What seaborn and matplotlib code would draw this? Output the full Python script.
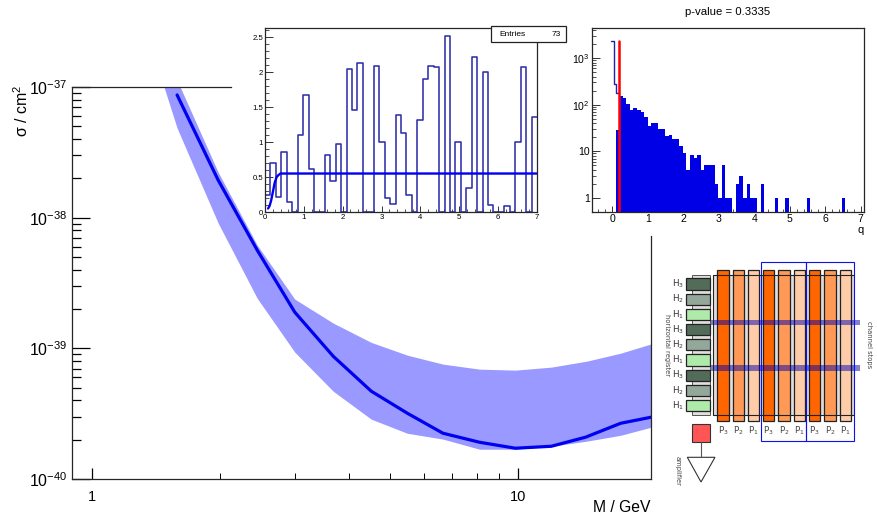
import numpy as np
import matplotlib
matplotlib.use("Agg")
import matplotlib.pyplot as plt
from matplotlib.patches import Rectangle, Polygon
from matplotlib.ticker import NullFormatter
import seaborn as sns

W, H = 878, 516

# ---- main limit plot ----
mass = [1.583, 1.976, 2.44, 2.99, 3.68, 4.52, 5.49, 6.66, 8.12, 9.85, 11.96, 14.4, 17.4, 20.5]
limit = [8.69e-38, 1.94e-38, 5.65e-39, 1.89e-39, 8.7e-40, 4.7e-40, 3.19e-40,
         2.24e-40, 1.91e-40, 1.72e-40, 1.78e-40, 2.09e-40, 2.67e-40, 2.97e-40]
band_mass = [1.444, 1.583, 1.976, 2.44, 2.99, 3.68, 4.52, 5.49, 6.66, 8.12, 9.85, 11.96, 14.5, 17.4, 20.5]
band_hi = [2.21e-37, 1.13e-37, 2.23e-38, 6.17e-39, 2.38e-39, 1.56e-39, 1.11e-39, 8.87e-40,
           7.57e-40, 6.93e-40, 6.81e-40, 7.18e-40, 7.98e-40, 9.18e-40, 1.08e-39]
band_lo = [1.24e-37, 4.85e-38, 9.1e-39, 2.42e-39, 9.35e-40, 4.7e-40, 2.87e-40, 2.24e-40,
           2.02e-40, 1.69e-40, 1.69e-40, 1.78e-40, 1.95e-40, 2.16e-40, 2.49e-40]

# ---- upper-middle histogram ----
entries_counts = [0.24, 0.70, 0.22, 0.86, 0.14, 0, 1.10, 1.67, 0.62, 0, 0, 0.81, 0.44, 0.97, 0,
                  2.05, 1.46, 2.13, 0, 0, 2.08, 1.0, 0.20, 0.12, 1.38, 1.13, 0.24, 0, 1.32, 1.90,
                  2.08, 2.07, 0, 2.51, 0, 1.0, 0, 0.35, 2.21, 0, 2.0, 0.10, 0, 0, 0.08, 0, 1.0,
                  2.07, 0, 1.36]
fit_x = [0.08, 0.12, 0.16, 0.20, 0.25, 0.30, 0.35, 0.40, 0.50, 7.0]
fit_y = [0.05, 0.09, 0.17, 0.28, 0.42, 0.50, 0.53, 0.55, 0.55, 0.55]

# ---- q distribution ----
q_hollow_edges = [-0.047, 0.056, 0.113, 0.2]
q_hollow = [2280, 277, 178]
q_first_edge = 0.113
q_first = 29
q_counts = [156, 139, 105, 78, 85, 78, 68, 54, 35, 40, 40, 30, 30, 21, 22, 18.5, 18.5, 13,
            9, 4, 8.2, 7.2, 8.2, 4, 5, 5, 5, 2, 1, 5, 1, 1, 0, 2, 3, 1, 2, 1, 1, 0, 2,
            0, 0, 0, 1, 0, 0, 1, 0, 0, 0, 0, 0, 1, 0, 0, 0, 0, 0, 0, 0, 0, 0, 1]
q_start, q_width = 0.2, 0.0995
q_obs = 0.19

# ---- detector schematic ----
phase_labels = ["P$_3$", "P$_2$", "P$_1$"] * 3
phase_colors = ["#ff6600", "#ff9955", "#ffccaa"] * 3
reg_labels = ["H$_3$", "H$_2$", "H$_1$"] * 3
reg_colors = ["#536c59", "#93a79b", "#aeeaaa"] * 3

sns.set_theme(style="ticks", font="Liberation Sans")
plt.rcParams.update({
    "mathtext.fontset": "custom", "mathtext.rm": "Liberation Sans",
    "mathtext.it": "Liberation Sans", "mathtext.bf": "Liberation Sans",
    "mathtext.default": "regular", "axes.linewidth": 0.9,
    "xtick.direction": "in", "ytick.direction": "in",
    "text.color": "black", "xtick.color": "black", "ytick.color": "black",
})

fig = plt.figure(figsize=(W / 100, H / 100), dpi=100, facecolor="white")


def ax_px(l, t, r, b, **kw):
    return fig.add_axes([l / W, 1 - b / H, (r - l) / W, (b - t) / H], **kw)


# ---------- main ----------
ax = ax_px(72, 87, 651, 479)
ax.set_xscale("log")
ax.set_yscale("log")
ax.fill_between(band_mass, band_lo, band_hi, color="#9999ff", lw=0)
sns.lineplot(x=mass, y=limit, color="#0000f0", lw=2.3, ax=ax, estimator=None, sort=False)
ax.set_xlim(0.897, 20.5)
ax.set_ylim(1e-40, 1e-37)
ax.set_xticks([1, 10], ["1", "10"])
ax.set_xticks([2, 3, 4, 5, 6, 7, 8, 9], minor=True)
ax.xaxis.set_minor_formatter(NullFormatter())
decades = [1e-40, 1e-39, 1e-38, 1e-37]
ax.set_yticks(decades, ["$10^{-40}$", "$10^{-39}$", "$10^{-38}$", "$10^{-37}$"])
ax.set_yticks([m * d for d in decades[:3] for m in range(2, 10)], minor=True)
ax.yaxis.set_minor_formatter(NullFormatter())
ax.tick_params(axis="y", which="major", length=13, width=0.9, labelsize=11.5, pad=3)
ax.tick_params(axis="y", which="minor", length=6.5, width=0.9)
ax.tick_params(axis="x", which="major", length=8, width=0.9, labelsize=10.5, pad=8)
ax.tick_params(axis="x", which="minor", length=4.3, width=0.7)
ax.spines["top"].set_bounds(0.897, 2.12)
ax.spines["right"].set_bounds(1e-40, 7.24e-39)
for s in ax.spines.values():
    s.set_visible(True)

# ---------- middle inset ----------
a1 = ax_px(265, 28, 537, 212)
edges1 = np.linspace(0, 7, len(entries_counts) + 1)
sns.histplot(x=(edges1[:-1] + edges1[1:]) / 2, weights=entries_counts, bins=list(edges1),
             element="step", fill=False, color="#3030aa", lw=1.15, ax=a1)
sns.lineplot(x=fit_x, y=fit_y, color="#0000f0", lw=1.7, ax=a1, estimator=None)
a1.set_xlim(0, 7)
a1.set_ylim(0, 2.63)
a1.set_xlabel("")
a1.set_ylabel("")
a1.set_xticks(range(8), [str(i) for i in range(8)])
a1.set_xticks(np.arange(0, 7.01, 0.2), minor=True)
a1.set_yticks([0, 0.5, 1, 1.5, 2, 2.5], ["0", "0.5", "1", "1.5", "2", "2.5"])
a1.set_yticks(np.arange(0, 2.61, 0.1), minor=True)
a1.xaxis.set_minor_formatter(NullFormatter())
a1.yaxis.set_minor_formatter(NullFormatter())
a1.tick_params(axis="both", which="major", labelsize=5.6, pad=1.5, width=0.7, color="#333333")
a1.tick_params(axis="x", which="major", length=4)
a1.tick_params(axis="y", which="major", length=6)
a1.tick_params(axis="x", which="minor", length=2, width=0.6, color="#333333")
a1.tick_params(axis="y", which="minor", length=3, width=0.6, color="#333333")

# ---------- right inset ----------
a2 = ax_px(592, 28, 864, 212)
a2.set_yscale("log")
q_edges = q_start + q_width * np.arange(len(q_counts) + 1)
fill_edges = np.r_[q_first_edge, q_edges]
fill_vals = [q_first] + q_counts
sns.histplot(x=(fill_edges[:-1] + fill_edges[1:]) / 2, weights=fill_vals, bins=list(fill_edges),
             element="step", fill=True, alpha=1, color="#0000e6", lw=0, ax=a2)
h_edges = np.array(q_hollow_edges)
sns.histplot(x=(h_edges[:-1] + h_edges[1:]) / 2, weights=q_hollow, bins=list(h_edges),
             element="step", fill=False, color="#2020b0", lw=1.0, ax=a2)
sns.lineplot(x=[q_obs, q_obs], y=[0.5, q_hollow[0]], color="#ff0000", lw=1.8, ax=a2, estimator=None)
a2.set_xlim(-0.57, 7.09)
a2.set_ylim(0.5, 4400)
a2.set_xlabel("")
a2.set_ylabel("")
a2.set_xticks(range(8), [str(i) for i in range(8)])
a2.set_xticks(np.arange(-0.4, 7.01, 0.2), minor=True)
a2.set_yticks([1, 10, 100, 1000], ["1", "10", "$10^{2}$", "$10^{3}$"])
a2.set_yticks([m * d for d in [1, 10, 100, 1000] for m in range(2, 10) if m * d < 4400], minor=True)
a2.xaxis.set_minor_formatter(NullFormatter())
a2.yaxis.set_minor_formatter(NullFormatter())
a2.tick_params(axis="both", which="major", labelsize=7.6, pad=1.5, width=0.7, color="#333333")
a2.tick_params(axis="x", which="major", length=4.3)
a2.tick_params(axis="y", which="major", length=6)
a2.tick_params(axis="x", which="minor", length=2, width=0.6, color="#333333")
a2.tick_params(axis="y", which="minor", length=3, width=0.6, color="#333333")

# ---------- overlay in pixel coordinates ----------
ov = fig.add_axes([0, 0, 1, 1], zorder=10)
ov.set_xlim(0, W)
ov.set_ylim(H, 0)
ov.axis("off")
ov.patch.set_alpha(0)

ov.text(22, 111, "σ / cm$^{2}$", rotation=90, ha="center", va="center", fontsize=11.5)
ov.text(651, 507.5, "M / GeV", ha="right", va="center", fontsize=11.3)
ov.text(728, 12, "p-value = 0.3335", ha="center", va="center", fontsize=8.2)
ov.text(861, 230, "q", ha="center", va="center", fontsize=8)

ov.add_patch(Rectangle((491, 26), 75, 16, fc="white", ec="#222222", lw=0.9))
ov.text(499, 34, "Entries", ha="left", va="center", fontsize=6)
ov.text(561, 34, "73", ha="right", va="center", fontsize=6)

# schematic
ov.add_patch(Rectangle((713.3, 275), 140.7, 140.3, fc="#e2dcdc", ec="none"))
ov.plot([854, 713.3, 713.3, 854], [275, 275, 415.3, 415.3], color="#222222", lw=0.8)
ov.add_patch(Rectangle((692.3, 275), 17.7, 140.3, fc="#e2dcdc", ec="#555555", lw=0.7))
for k, (lab, c) in enumerate(zip(phase_labels, phase_colors)):
    x0 = 717.3 + 15.3 * k
    ov.add_patch(Rectangle((x0, 270), 11.3, 151.3, fc=c, ec="#222222", lw=0.9))
    ov.text(x0 + 5.6, 431, lab, ha="center", va="center", fontsize=6.3,
            family="DejaVu Sans", color="#444444")
for k, (lab, c) in enumerate(zip(reg_labels, reg_colors)):
    y0 = 278.3 + 15.2 * k
    ov.add_patch(Rectangle((685.7, y0), 24.3, 11.3, fc=c, ec="#222222", lw=0.9))
    ov.text(678, y0 + 5.6, lab, ha="center", va="center", fontsize=6.3,
            family="DejaVu Sans", color="#333333")
for y0, h in [(320, 5.3), (365.3, 5.7)]:
    ov.add_patch(Rectangle((710.7, y0), 149.3, h, fc="#0000aa", ec="none", alpha=0.5))
for x0, w in [(761, 45.3), (806.3, 47.4)]:
    ov.add_patch(Rectangle((x0, 262.3), w, 178.4, fc="none", ec="#1010ee", lw=0.8))
ov.add_patch(Rectangle((692.3, 424), 17.7, 18, fc="#ff5555", ec="#333333", lw=0.8))
ov.plot([701, 701], [442, 457.3], color="#555555", lw=0.8)
ov.add_patch(Polygon([(687.3, 457.3), (715, 457.3), (701, 482)], closed=True,
                     fc="white", ec="#333333", lw=0.8))
for x, y, s in [(667.3, 345, "horizontal register"), (677.7, 471.5, "amplifier"),
                (869, 345, "channel stops")]:
    ov.text(x, y, s, rotation=-90, ha="center", va="center", fontsize=4.9,
            family="DejaVu Sans", color="#444444")

fig.savefig("out.png", dpi=100, facecolor="white")
